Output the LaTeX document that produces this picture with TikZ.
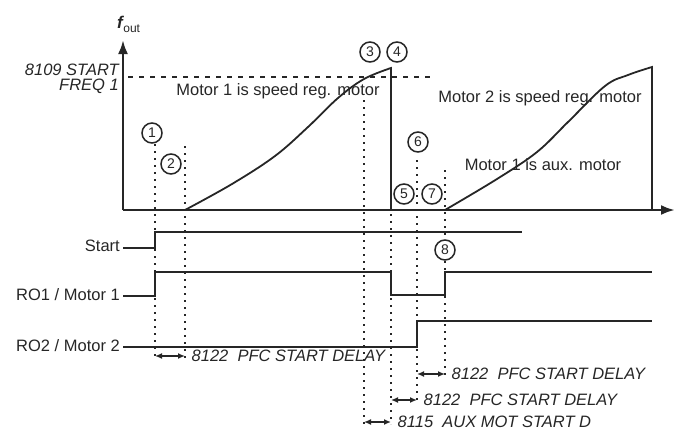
\documentclass[tikz,border=0pt]{standalone}
\usepackage{fontspec}
\setmainfont{Liberation Sans}
\usetikzlibrary{arrows.meta}
\colorlet{ink}{black!85}
\tikzset{
  sig/.style={ink, line width=2.2pt},
  curve/.style={ink, line width=1.8pt},
  evt/.style={ink, line width=2.2pt, dash pattern=on 2pt off 5pt},
  num/.style={circle, draw=ink, line width=1.5pt, fill=white, minimum size=20pt,
    inner sep=0pt, text=ink, font=\fontsize{14}{14}\selectfont},
  txt/.style={text=ink, inner sep=1pt, font=\fontsize{16.5}{18}\selectfont},
  par/.style={text=ink, inner sep=1pt, font=\fontsize{16.5}{18}\selectfont\itshape},
  delay/.style={ink, line width=1.4pt, {Latex[length=7pt,width=6pt]}-{Latex[length=7pt,width=6pt]}}
}
\begin{document}
\begin{tikzpicture}[x=1pt, y=-1pt]
    \useasboundingbox (0,0) rectangle (675,432);

    % event instants
    \coordinate (t1) at (155,0);
    \coordinate (t2) at (185,0);
    \coordinate (t3) at (364,0);
    \coordinate (t4) at (391,0);
    \coordinate (t5) at (417,0);
    \coordinate (t7) at (445,0);

    % axes
    \coordinate (o) at (123,210);
    \draw[ink, line width=2.6pt, -{Latex[length=14pt,width=10pt]}] (o) -- (123,40);
    \draw[ink, line width=2.6pt, -{Latex[length=14pt,width=10pt]}] (o) -- (675,210);
    \node[text=ink, inner sep=0pt, anchor=base west] (fout) at (117,28)
        {\fontsize{17}{17}\selectfont\bfseries\itshape f\kern0.5pt\raisebox{-4pt}{\fontsize{12}{12}\selectfont\normalfont out}};

    % start frequency
    \draw[ink, line width=1.8pt, dash pattern=on 5pt off 6pt] (128,77) -- (430,77);
    \node[par, anchor=east, align=right, font=\fontsize{16.5}{15}\selectfont\itshape]
        (freq) at (120,79) {8109 START\\FREQ 1};

    % event lines
    \draw[evt] (t1|-0,144) -- (t1|-0,358);
    \draw[evt] (t2|-0,146) -- (t2|-0,358);
    \draw[evt] (t3|-0,100) -- (t3|-0,424);
    \draw[evt] (t4|-0,214) -- (t4|-0,424);
    \draw[evt] (t5|-0,160) -- (t5|-0,400);
    \draw[evt] (t7|-0,170) -- (t7|-0,376);

    % output frequency
    \draw[curve] plot[smooth, tension=0.6] coordinates {(185,210) (232,184)
        (275,156) (308,127) (338,98) (364,79) (391,68)} -- (391,210);
    \draw[curve] plot[smooth, tension=0.6] coordinates {(445,210) (497,179)
        (537,152) (568,122) (605,86) (628,75) (652,67)} -- (652,210);

    \node[txt] at (278,91) {Motor 1 is speed reg. motor};
    \node[txt] at (540,98) {Motor 2 is speed reg. motor};
    \node[txt] at (543,165) {Motor 1 is aux. motor};

    % numbered events
    \node[num] (n1) at (152,133) {1};
    \node[num] (n2) at (171,164) {2};
    \node[num] (n3) at (370,52) {3};
    \node[num] (n4) at (397,52) {4};
    \node[num] (n5) at (404,194) {5};
    \node[num] (n6) at (418,142) {6};
    \node[num] (n7) at (432,194) {7};
    \node[num] (n8) at (445,250) {8};

    % signals
    \node[txt, anchor=east] at (121,246) {Start};
    \node[txt, anchor=east] at (121,295) {RO1 / Motor 1};
    \node[txt, anchor=east] at (121,346) {RO2 / Motor 2};
    \draw[sig] (123,248) -- (t1|-0,248) -- (t1|-0,232) -- (522,232);
    \draw[sig] (123,296) -- (t1|-0,296) -- (t1|-0,272) -- (t4|-0,272)
        -- (t4|-0,295) -- (t7|-0,295) -- (t7|-0,272) -- (652,272);
    \draw[sig] (123,347) -- (t5|-0,347) -- (t5|-0,321) -- (652,321);

    % delays
    \draw[delay] (t1|-0,356) -- (t2|-0,356)
        node[par, right=5pt] {8122\ \ PFC START DELAY};
    \draw[delay] (t5|-0,374) -- (t7|-0,374)
        node[par, right=5pt] {8122\ \ PFC START DELAY};
    \draw[delay] (t4|-0,400) -- (t5|-0,400)
        node[par, right=5pt] {8122\ \ PFC START DELAY};
    \draw[delay] (t3|-0,422) -- (t4|-0,422)
        node[par, right=5pt] {8115\ \ AUX MOT START D};
\end{tikzpicture}
\end{document}
